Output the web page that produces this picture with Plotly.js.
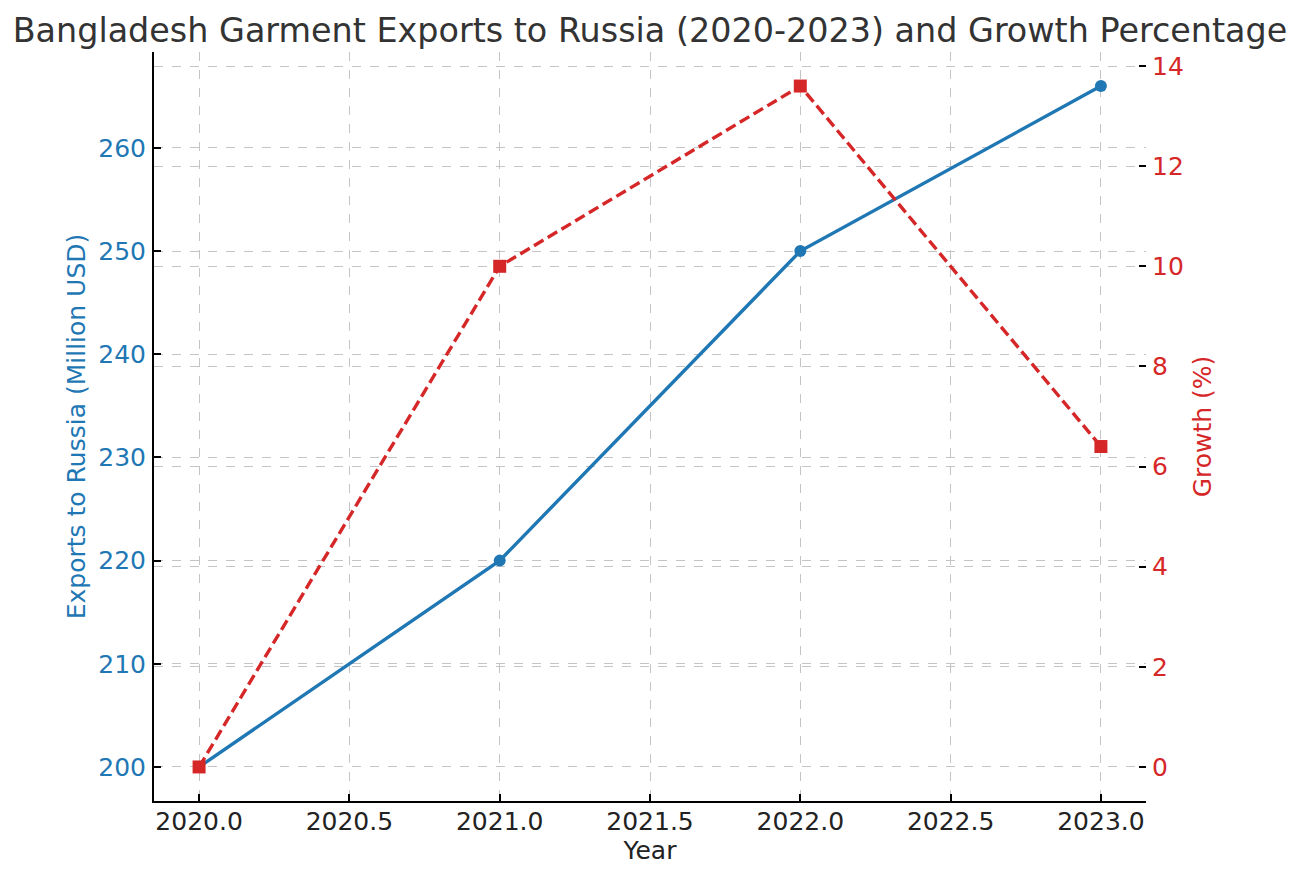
<!DOCTYPE html>
<html>
<head>
<meta charset="utf-8">
<script src="https://cdn.plot.ly/plotly-3.0.1.min.js"></script>
<style>
  html, body { margin: 0; padding: 0; background: #fff; }
  #chart { width: 1300px; height: 882px; }
</style>
</head>
<body>
<div id="chart"></div>
<script>
const years = [2020, 2021, 2022, 2023];
const exportsMusd = [200, 220, 250, 266];
const growthPct = [0, 10, 13.6, 6.4];

const xTicks = [2020, 2020.5, 2021, 2021.5, 2022, 2022.5, 2023];
const xTickText = ['2020.0', '2020.5', '2021.0', '2021.5', '2022.0', '2022.5', '2023.0'];

const blue = '#1f77b4';
const red = '#d62728';
const gridColor = '#c4c4c4';
const font = 'DejaVu Sans, sans-serif';

const traces = [
  {
    x: years, y: exportsMusd,
    mode: 'lines+markers',
    name: 'Exports',
    line: { color: blue, width: 3.4 },
    marker: { color: blue, size: 12, symbol: 'circle' },
    yaxis: 'y'
  },
  {
    x: years, y: growthPct,
    mode: 'lines+markers',
    name: 'Growth',
    line: { color: red, width: 3.4, dash: '11px,5px' },
    marker: { color: red, size: 13, symbol: 'square' },
    yaxis: 'y2'
  }
];

const layout = {
  width: 1300, height: 882,
  margin: { l: 154, r: 154, t: 52, b: 81 },
  paper_bgcolor: '#fff', plot_bgcolor: '#fff',
  showlegend: false,
  font: { family: font, size: 25, color: '#222' },
  title: {
    text: 'Bangladesh Garment Exports to Russia (2020-2023) and Growth Percentage',
    font: { family: font, size: 33.4, color: '#333' },
    x: 0.5, xanchor: 'center',
    y: 0.966, yref: 'container', yanchor: 'middle'
  },
  xaxis: {
    range: [2019.85, 2023.15],
    tickvals: xTicks, ticktext: xTickText,
    showline: true, linecolor: '#000', linewidth: 2,
    ticks: 'inside', ticklen: 7, tickwidth: 2, tickcolor: '#000',
    ticklabelstandoff: -3,
    showgrid: true, gridcolor: gridColor, griddash: 'dash', gridwidth: 1,
    zeroline: false,
    tickfont: { size: 25, color: '#222' },
    title: { text: 'Year', font: { size: 25, color: '#222' }, standoff: 5 }
  },
  yaxis: {
    range: [196.7, 269.3],
    dtick: 10, tick0: 200,
    showline: true, linecolor: '#000', linewidth: 2,
    ticks: 'inside', ticklen: 7, tickwidth: 2, tickcolor: '#000',
    ticklabelstandoff: 1,
    showgrid: true, gridcolor: gridColor, griddash: 'dash', gridwidth: 1,
    zeroline: false,
    tickfont: { size: 25, color: blue },
    title: { text: 'Exports to Russia (Million USD)', font: { size: 25, color: blue }, standoff: 6 }
  },
  yaxis2: {
    range: [-0.68, 14.28],
    dtick: 2, tick0: 0,
    overlaying: 'y', side: 'right',
    showline: false,
    ticks: 'inside', ticklen: 7, tickwidth: 2, tickcolor: '#000',
    ticklabelstandoff: 5,
    showgrid: true, gridcolor: gridColor, griddash: 'dash', gridwidth: 1,
    zeroline: false,
    tickfont: { size: 25, color: red },
    title: { text: 'Growth (%)', font: { size: 25, color: red }, standoff: 10 }
  }
};

Plotly.newPlot('chart', traces, layout, { displayModeBar: false, staticPlot: true });
</script>
</body>
</html>
